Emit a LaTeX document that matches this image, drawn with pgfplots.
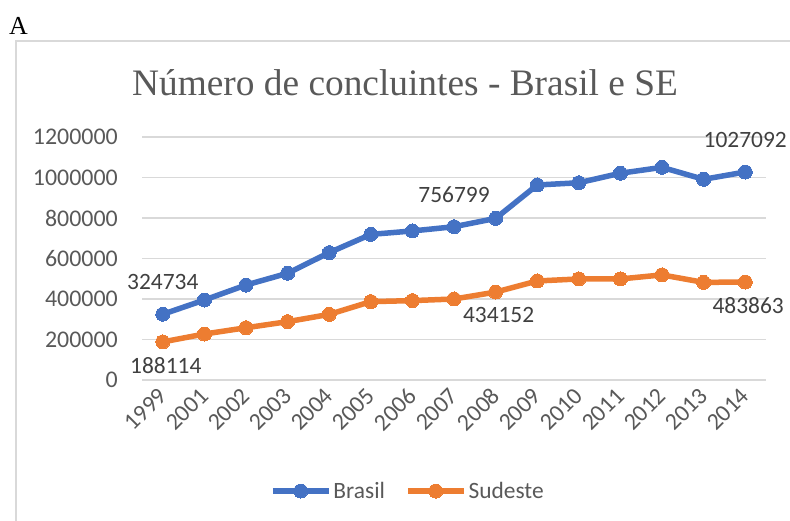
\documentclass[border=0pt]{standalone}
\usepackage{fontspec}
\setmainfont{Carlito}
\newfontfamily\tnr{Liberation Serif}
\usepackage{pgfplots}
\pgfplotsset{compat=1.18}
\definecolor{cblue}{HTML}{4472C4}
\definecolor{corange}{HTML}{ED7D31}
\definecolor{cgrid}{HTML}{D9D9D9}
\definecolor{ctext}{HTML}{595959}
\definecolor{clabel}{HTML}{404040}
\begin{document}
\begin{tikzpicture}[x=1bp,y=1bp]
\useasboundingbox (0,0) rectangle (790,521);
\draw[cgrid, line width=2bp] (16,-20) -- (16,480) -- (820,480);
\node[anchor=base west, font=\tnr\fontsize{26}{30}\selectfont, inner sep=0] at (9,486) {A};
\node[anchor=base, font=\tnr\fontsize{37.5}{42}\selectfont, text=ctext, inner sep=0] at (405,425) {Número de concluintes - Brasil e SE};
\begin{axis}[at={(142bp,141bp)}, anchor=south west, scale only axis,
  width=624bp, height=243bp,
  xmin=-0.5, xmax=14.5, ymin=0, ymax=1200000,
  scaled y ticks=false,
  xtick={0,...,14},
  xticklabels={1999,2001,2002,2003,2004,2005,2006,2007,2008,2009,2010,2011,2012,2013,2014},
  ytick={0,200000,400000,600000,800000,1000000,1200000},
  yticklabels={0,200000,400000,600000,800000,1000000,1200000},
  ymajorgrids, grid style={cgrid, line width=1.5bp},
  axis line style={draw=none}, major tick length=0pt,
  tick label style={font=\fontsize{24}{28}\selectfont, text=ctext},
  yticklabel style={anchor=east, inner sep=0pt, xshift=-24bp},
  xticklabel style={rotate=45, anchor=east, inner sep=0pt},
  xticklabel shift=12bp,
  clip=false,
  legend style={at={(0.426,-0.457)}, anchor=center, legend columns=2, draw=none, fill=none,
    font=\fontsize{23.5}{27}\selectfont, text=ctext,
    /tikz/every even column/.append style={column sep=18bp}},
  legend image code/.code={\draw[mark repeat=2,mark phase=2,#1] plot coordinates {(0bp,0bp) (28bp,0bp) (56bp,0bp)};},
]
\addplot[cblue, line width=5.5bp, mark=*, mark size=7bp, mark options={solid, fill=cblue, line width=0pt}]
coordinates {(0,324734) (1,395000) (2,469000) (3,527000) (4,629000) (5,719000) (6,736000) (7,756799) (8,798000) (9,963000) (10,974000) (11,1021000) (12,1050000) (13,991000) (14,1027092)};
\addlegendentry{Brasil}
\addplot[corange, line width=5.5bp, mark=*, mark size=7bp, mark options={solid, fill=corange, line width=0pt}]
coordinates {(0,188114) (1,227000) (2,258000) (3,288000) (4,324000) (5,387000) (6,392000) (7,400000) (8,434152) (9,489000) (10,499000) (11,499000) (12,519000) (13,482000) (14,483863)};
\addlegendentry{Sudeste}
\addplot[draw=none, mark=none, forget plot, point meta=explicit symbolic, nodes near coords,
  nodes near coords style={font=\fontsize{23.5}{27}\selectfont, text=clabel, anchor=south, inner sep=0pt, yshift=24bp}]
coordinates {(0,324734)[324734] (7,756799)[756799] (14,1027092)[1027092]};
\addplot[draw=none, mark=none, forget plot, point meta=explicit symbolic, nodes near coords,
  nodes near coords style={font=\fontsize{23.5}{27}\selectfont, text=clabel, anchor=north, inner sep=0pt, yshift=-15bp, xshift=3bp}]
coordinates {(0,188114)[188114] (8,434152)[434152] (14,483863)[483863]};
\end{axis}
\end{tikzpicture}
\end{document}
